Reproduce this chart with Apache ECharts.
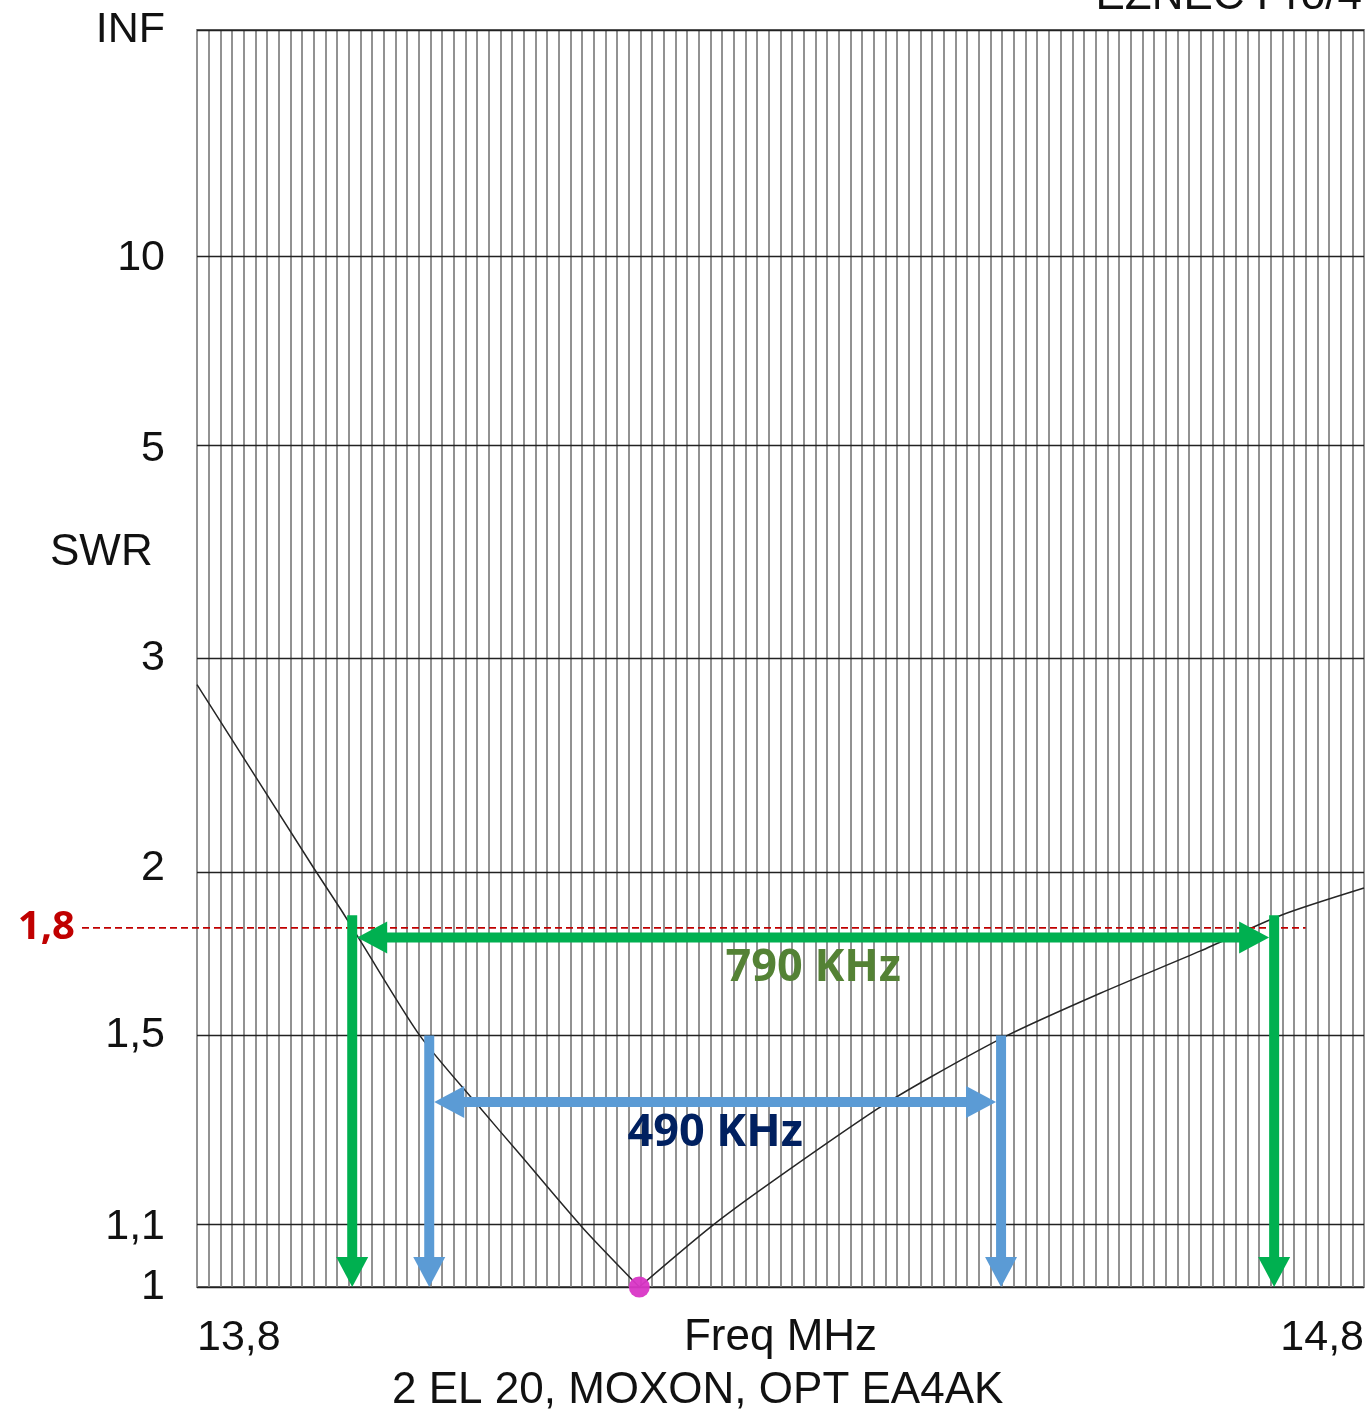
<!DOCTYPE html>
<html>
<head>
<meta charset="utf-8">
<title>2 EL 20, MOXON, OPT EA4AK</title>
<script src="https://cdn.jsdelivr.net/npm/echarts@6/dist/echarts.min.js"></script>
<style>
  html, body { margin: 0; padding: 0; background: #ffffff; }
  #chart { width: 1369px; height: 1413px; }
</style>
</head>
<body>
<div id="chart"></div>
<script>
// SWR sweep of the 2-element Moxon, 13.8 - 14.8 MHz
const freqMHz = [13.800, 13.900, 13.923, 13.940, 13.991, 14.040, 14.077, 14.130, 14.179,
                 14.240, 14.291, 14.383, 14.428, 14.494, 14.574, 14.660, 14.729, 14.800];
const swr     = [2.84, 2.00, 1.86, 1.76, 1.50, 1.34, 1.235, 1.10, 1.00,
                 1.10, 1.18, 1.33, 1.40, 1.50, 1.61, 1.73, 1.84, 1.93];

// resonance marker
const minFreqMHz = 14.179;
const minSWR = 1.00;

// SWR scale ticks (INF = open circuit)
const swrTicks = [1, 1.1, 1.5, 2, 3, 5, 10, Infinity];

// frequency span of the chart (MHz) and minor grid step (kHz)
const freqStartMHz = 13.8;
const freqEndMHz = 14.8;
const gridStepKHz = 10;

// bandwidth annotations: SWR threshold, lower edge, width
const bandSWR = [1.8, 1.5];
const bandLowMHz = [13.933, 13.999];
const bandWidthKHz = [790, 490];
const bandTopSWR = [1.84, 1.5];     // where the edge arrows start
const bandRowSWR = [1.77, 1.345];   // height of the span arrows
const bandColor = ['#00b050', '#5b9bd5'];
const bandTextColor = ['#548235', '#002060'];

// reference line for the 1,8 limit
const refSWR = 1.8;
const refEndMHz = 14.75;

// SWR is plotted on a reflection-coefficient scale: rho = (SWR-1)/(SWR+1)
const toRho = s => (isFinite(s) ? (s - 1) / (s + 1) : 1);
const fromRho = r => (r >= 0.99999 ? Infinity : (1 + r) / (1 - r));
const fmtNum = v => String(Math.round(v * 10) / 10).replace('.', ',');
const fmtSWR = s => (isFinite(s) ? fmtNum(s) : 'INF');
const kHz = mhz => Math.round(mhz * 1000 * 1000) / 1000;

const curveData = freqMHz.map((f, i) => [kHz(f), toRho(swr[i])]);
// split at the resonance so each branch can be smoothed without rounding the dip
const dipIndex = freqMHz.indexOf(minFreqMHz);
const lowBranch = curveData.slice(0, dipIndex + 1);
const highBranch = curveData.slice(dipIndex);

const bandData = bandSWR.map((s, i) => [
  kHz(bandLowMHz[i]),
  kHz(bandLowMHz[i]) + bandWidthKHz[i],
  toRho(bandTopSWR[i]),
  toRho(bandRowSWR[i]),
  bandWidthKHz[i],
  i
]);

const TXT = 'Liberation Sans, Arial, sans-serif';
const BOLD = 'Noto Sans, Open Sans, sans-serif';

function head(tip, dir, len, halfW, color) {
  const bx = tip[0] - dir[0] * len, by = tip[1] - dir[1] * len;
  const px = -dir[1], py = dir[0];
  return {
    type: 'polygon',
    shape: { points: [tip, [bx + px * halfW, by + py * halfW], [bx - px * halfW, by - py * halfW]] },
    style: { fill: color }
  };
}

function shaft(a, b, color, w) {
  return {
    type: 'line',
    shape: { x1: a[0], y1: a[1], x2: b[0], y2: b[1] },
    style: { stroke: color, lineWidth: w, lineCap: 'butt' }
  };
}

function renderBand(params, api) {
  const lo = api.value(0), hi = api.value(1), top = api.value(2), row = api.value(3);
  const width = api.value(4), idx = api.value(5);
  const color = bandColor[idx];
  const W = 10, L = 30, H = 16;
  const children = [];
  [lo, hi].forEach(f => {
    const pt = api.coord([f, top]);
    const pb = api.coord([f, 0]);
    children.push(shaft(pt, [pb[0], pb[1] - L + 1], color, W));
    children.push(head(pb, [0, 1], L, H, color));
  });
  const pl = api.coord([lo, row]);
  const pr = api.coord([hi, row]);
  const tl = [pl[0] + W / 2, pl[1]];
  const tr = [pr[0] - W / 2, pr[1]];
  children.push(shaft([tl[0] + L - 1, tl[1]], [tr[0] - L + 1, tr[1]], color, W));
  children.push(head(tl, [-1, 0], L, H, color));
  children.push(head(tr, [1, 0], L, H, color));
  children.push({
    type: 'text',
    x: (pl[0] + pr[0]) / 2,
    y: pl[1] + 31,
    style: {
      text: width + ' KHz', fill: bandTextColor[idx],
      fontSize: 45, fontWeight: 'bold', fontFamily: BOLD,
      align: 'center', verticalAlign: 'middle'
    }
  });
  return { type: 'group', children: children };
}

function renderRef(params, api) {
  const r = api.value(1);
  const pEnd = api.coord([api.value(0), r]);
  const pAxis = api.coord([kHz(freqStartMHz), r]);
  const x0 = pAxis[0] - 115;
  return {
    type: 'group',
    children: [
      {
        type: 'line',
        shape: { x1: x0, y1: pEnd[1], x2: pEnd[0], y2: pEnd[1] },
        style: { stroke: '#c00000', lineWidth: 1.6, lineDash: [7, 4] }
      },
      {
        type: 'text',
        x: x0 - 7, y: pEnd[1],
        style: {
          text: fmtNum(refSWR), fill: '#c00000',
          fontSize: 40, fontWeight: 'bold', fontFamily: BOLD,
          align: 'right', verticalAlign: 'middle'
        }
      }
    ]
  };
}

const curveStyle = { color: '#262626', width: 1.5 };

const chart = echarts.init(document.getElementById('chart'), null, { renderer: 'canvas' });

chart.setOption({
  animation: false,
  backgroundColor: '#ffffff',
  title: {
    text: '2 EL 20, MOXON, OPT EA4AK',
    left: 392,
    top: 1369,
    padding: 0,
    textStyle: { fontSize: 44, fontWeight: 'normal', color: '#111', fontFamily: TXT }
  },
  graphic: [
    {
      type: 'text', x: 50, y: 553,
      style: { text: 'SWR', fontSize: 44, fill: '#111', fontFamily: TXT, verticalAlign: 'middle' }
    },
    {
      type: 'text', x: 1362, y: -3,
      style: { text: 'EZNEC Pro/4', fontSize: 44, fill: '#111', fontFamily: TXT, align: 'right', verticalAlign: 'middle' }
    }
  ],
  grid: {
    left: 197, right: 5, top: 30, bottom: 126,
    show: true, borderColor: '#333', borderWidth: 1.5, backgroundColor: 'transparent'
  },
  xAxis: {
    type: 'value',
    min: kHz(freqStartMHz),
    max: kHz(freqEndMHz),
    interval: gridStepKHz,
    name: 'Freq MHz',
    nameLocation: 'middle',
    nameGap: 29,
    nameMoveOverlap: false,
    nameTextStyle: { fontSize: 44, color: '#111', fontFamily: TXT },
    axisLine: { show: false },
    axisTick: { show: false },
    splitLine: { show: true, lineStyle: { color: '#929292', width: 2 } },
    axisLabel: {
      margin: 30,
      fontSize: 43,
      color: '#111',
      fontFamily: TXT,
      alignMinLabel: 'left',
      alignMaxLabel: 'right',
      formatter: v => (v === kHz(freqStartMHz) || v === kHz(freqEndMHz)) ? fmtNum(v / 1000) : ''
    }
  },
  yAxis: {
    type: 'value',
    min: 0,
    max: 1,
    axisLine: { show: false },
    axisTick: { show: false },
    splitLine: { show: false },
    axisLabel: {
      customValues: swrTicks.map(toRho),
      margin: 32,
      fontSize: 43,
      color: '#111',
      fontFamily: TXT,
      formatter: v => fmtSWR(fromRho(v))
    }
  },
  series: [
    {
      type: 'line',
      data: lowBranch,
      showSymbol: false,
      smooth: 0.25,
      z: 3,
      lineStyle: curveStyle,
      markLine: {
        silent: true,
        symbol: ['none', 'none'],
        label: { show: false },
        lineStyle: { color: '#222', width: 1.4, type: 'solid' },
        data: swrTicks.map(s => ({ yAxis: toRho(s) }))
      }
    },
    {
      type: 'line',
      data: highBranch,
      showSymbol: false,
      smooth: 0.25,
      z: 3,
      lineStyle: curveStyle
    },
    {
      type: 'scatter',
      data: [[kHz(minFreqMHz), toRho(minSWR)]],
      symbolSize: 21,
      clip: false,
      z: 6,
      itemStyle: { color: '#d936c6', opacity: 0.95 }
    },
    {
      type: 'custom',
      renderItem: renderRef,
      data: [[kHz(refEndMHz), toRho(refSWR)]],
      clip: false,
      z: 4,
      silent: true
    },
    {
      type: 'custom',
      renderItem: renderBand,
      encode: { x: [0, 1], y: [2, 3] },
      data: bandData,
      clip: false,
      z: 5,
      silent: true
    }
  ]
});
</script>
</body>
</html>
